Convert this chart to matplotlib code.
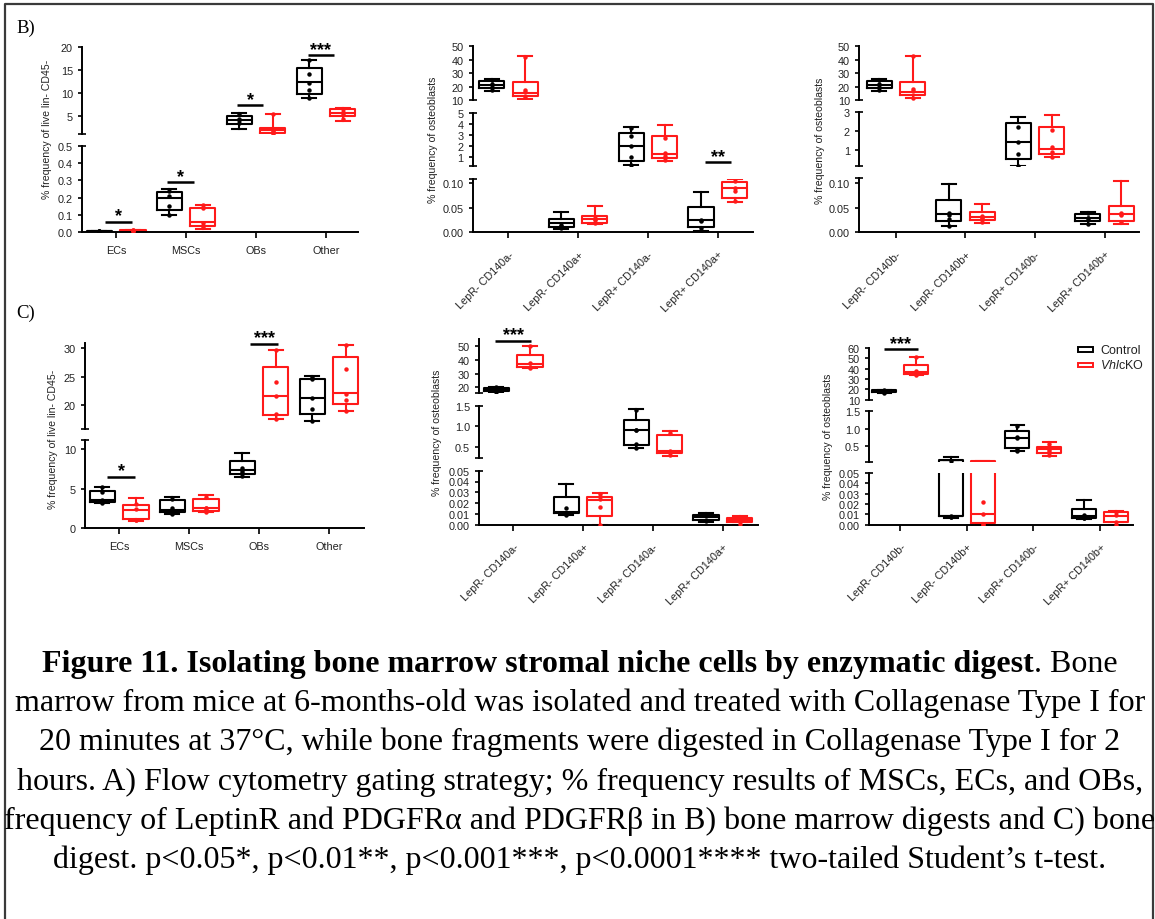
import matplotlib
matplotlib.use('Agg')
import matplotlib.pyplot as plt
from matplotlib.lines import Line2D
from matplotlib.patches import Rectangle

plt.rcParams['font.family'] = ['Liberation Sans', 'DejaVu Sans']
plt.rcParams['mathtext.fontset'] = 'custom'
plt.rcParams['mathtext.it'] = 'Liberation Sans:italic'
plt.rcParams['mathtext.rm'] = 'Liberation Sans'

# ---------------- data ----------------
# each box: [min, q1, median, q3, max]
cats_cell = ['ECs', 'MSCs', 'OBs', 'Other']
cats_a = ['LepR- CD140a-', 'LepR- CD140a+', 'LepR+ CD140a-', 'LepR+ CD140a+']
cats_b = ['LepR- CD140b-', 'LepR- CD140b+', 'LepR+ CD140b-', 'LepR+ CD140b+']
series_names = ['Control', r'$\it{Vhl}$cKO']

B1_ctrl = [[0.002, 0.003, 0.005, 0.007, 0.009], [0.10, 0.13, 0.20, 0.23, 0.25],
           [2.2, 3.4, 4.2, 5.0, 5.7], [8.9, 9.8, 12.4, 15.4, 17.3]]
B1_ko = [[0.006, 0.008, 0.010, 0.013, 0.015], [0.02, 0.038, 0.06, 0.138, 0.16],
         [1.1, 1.3, 1.95, 2.5, 5.6], [4.0, 5.1, 5.8, 6.5, 6.9]]
B1_ctrl_pts = [[0.003, 0.005, 0.006, 0.008], [0.10, 0.15, 0.21, 0.24],
               [3.6, 4.1, 4.4, 5.6], [9.0, 10.7, 12.3, 14.1, 17.3]]
B1_ko_pts = [[0.008, 0.010, 0.012, 0.014], [0.03, 0.055, 0.14, 0.16],
             [1.2, 1.9, 2.0, 5.5], [4.5, 5.5, 6.0, 6.6]]
B1_sig = [(0, 0.06, '*'), (1, 0.29, '*'), (2, 7.4, '*'), (3, 18.3, '***')]

B2_ctrl = [[16.9, 18.7, 21.2, 24.4, 25.6], [0.007, 0.010, 0.019, 0.027, 0.041],
           [0.25, 0.64, 2.0, 3.15, 3.67], [0.003, 0.010, 0.026, 0.052, 0.083]]
B2_ko = [[10.7, 13.2, 15.2, 23.6, 42.5], [0.016, 0.020, 0.027, 0.034, 0.053],
         [0.64, 0.9, 1.25, 2.9, 3.9], [0.062, 0.071, 0.09, 0.102, 0.11]]
B2_ctrl_pts = [[17.5, 21, 22, 25], [0.008, 0.010, 0.012, 0.015],
               [0.25, 0.95, 2.0, 2.9, 3.6], [0.003, 0.008, 0.024, 0.025]]
B2_ko_pts = [[12, 16, 17.7, 42], [0.02, 0.025, 0.027, 0.03],
             [0.7, 1.1, 1.3, 2.7], [0.063, 0.085, 0.09, 0.105]]
B2_sig = [(3, 0.49, '**')]

B3_ctrl = [[16.9, 18.7, 21.2, 24.4, 25.6], [0.012, 0.024, 0.037, 0.066, 0.099],
           [0.14, 0.50, 1.40, 2.41, 2.73], [0.017, 0.024, 0.030, 0.037, 0.042]]
B3_ko = [[11.2, 13.7, 15.7, 23.6, 43], [0.019, 0.026, 0.032, 0.041, 0.057],
         [0.59, 0.77, 1.04, 2.23, 2.87], [0.017, 0.024, 0.037, 0.054, 0.104]]
B3_ctrl_pts = [[17.5, 21, 22, 25], [0.013, 0.028, 0.035, 0.04],
               [0.15, 0.77, 1.4, 2.2], [0.017, 0.029, 0.03, 0.04]]
B3_ko_pts = [[11.5, 17, 18, 43], [0.02, 0.027, 0.03, 0.033],
             [0.6, 0.9, 1.16, 2.05], [0.02, 0.035, 0.038, 0.04]]
B3_sig = []

C1_ctrl = [[3.15, 3.36, 3.6, 4.74, 5.25], [1.8, 2.0, 2.3, 3.5, 3.9],
           [6.5, 6.85, 7.27, 8.45, 9.45], [17.2, 18.5, 21.2, 24.6, 25.1]]
C1_ko = [[0.96, 1.17, 2.3, 2.98, 3.78], [2.0, 2.14, 2.56, 3.7, 4.16],
         [17.5, 18.3, 21.6, 26.7, 29.65], [19.0, 20.2, 22.05, 28.4, 30.6]]
C1_ctrl_pts = [[3.2, 3.5, 4.6, 5.2], [1.8, 2.0, 2.6, 3.7],
               [6.6, 6.9, 7.2, 7.6], [17.2, 19.3, 21.2, 24.5, 25.0]]
C1_ko_pts = [[1.0, 1.1, 2.4, 3.0], [2.1, 2.5, 2.6, 3.9],
             [17.5, 18.5, 21.6, 24.0, 29.7], [19.0, 20.9, 22.0, 26.3, 30.6]]
C1_sig = [(0, 6.5, '*'), (2, 30.8, '***')]

C2_ctrl = [[16.5, 17.3, 18.3, 19.3, 20.3], [0.0093, 0.011, 0.0115, 0.026, 0.0377],
           [0.47, 0.54, 0.92, 1.16, 1.43], [0.0022, 0.0046, 0.0074, 0.0093, 0.0108]]
C2_ko = [[34.1, 35.1, 37.0, 43.6, 50.4], [0.0, 0.0083, 0.023, 0.026, 0.029],
         [0.26, 0.35, 0.40, 0.79, 0.88], [0.0, 0.0022, 0.0046, 0.0062, 0.0083]]
C2_ctrl_pts = [[16.5, 17.5, 18.5, 19.5, 20.3], [0.0093, 0.010, 0.011, 0.0155],
               [0.47, 0.56, 0.9, 0.92, 1.4], [0.003, 0.008, 0.009, 0.01]]
C2_ko_pts = [[34, 35, 37.8, 50], [0.0, 0.016, 0.024, 0.028],
             [0.28, 0.37, 0.4, 0.83], [0.001, 0.004, 0.005, 0.007]]
C2_sig = [(0, 54.1, '***')]

C3_ctrl = [[16.5, 17.2, 18.0, 19.0, 19.5], [0.0065, 0.008, 0.0085, 0.09, 0.19],
           [0.35, 0.43, 0.72, 0.94, 1.10], [0.0055, 0.0065, 0.0087, 0.015, 0.024]]
C3_ko = [[33.9, 34.8, 37.1, 43.6, 51.6], [0.0, 0.0014, 0.0103, 0.064, 0.068],
         [0.21, 0.28, 0.40, 0.47, 0.60], [0.0, 0.0023, 0.0087, 0.012, 0.0135]]
C3_ctrl_pts = [[16.5, 17.5, 18.5, 19.5], [0.007, 0.0075, 0.008, 0.06],
               [0.36, 0.42, 0.72, 0.76, 1.08], [0.006, 0.006, 0.007, 0.009]]
C3_ko_pts = [[34, 36, 38, 51], [0.0, 0.001, 0.0105, 0.0217],
             [0.24, 0.35, 0.42, 0.55], [0.0, 0.003, 0.009, 0.012]]
C3_sig = [(0, 59, '***')]

# axis segments (top to bottom): tick values and tick labels
B1_ticks = [[5, 10, 15, 20], [0, 0.1, 0.2, 0.3, 0.4, 0.5]]
B1_ticklabels = [['5', '10', '15', '20'], ['0.0', '0.1', '0.2', '0.3', '0.4', '0.5']]
B2_ticks = [[10, 20, 30, 40, 50], [1, 2, 3, 4, 5], [0, 0.05, 0.10]]
B2_ticklabels = [['10', '20', '30', '40', '50'], ['1', '2', '3', '4', '5'], ['0.00', '0.05', '0.10']]
B3_ticks = [[10, 20, 30, 40, 50], [1, 2, 3], [0, 0.05, 0.10]]
B3_ticklabels = [['10', '20', '30', '40', '50'], ['1', '2', '3'], ['0.00', '0.05', '0.10']]
C1_ticks = [[20, 25, 30], [0, 5, 10]]
C1_ticklabels = [['20', '25', '30'], ['0', '5', '10']]
C2_ticks = [[20, 30, 40, 50], [0.5, 1.0, 1.5], [0, 0.01, 0.02, 0.03, 0.04, 0.05]]
C2_ticklabels = [['20', '30', '40', '50'], ['0.5', '1.0', '1.5'],
                 ['0.00', '0.01', '0.02', '0.03', '0.04', '0.05']]
C3_ticks = [[10, 20, 30, 40, 50, 60], [0.5, 1.0, 1.5], [0, 0.01, 0.02, 0.03, 0.04, 0.05]]
C3_ticklabels = [['10', '20', '30', '40', '50', '60'], ['0.5', '1.0', '1.5'],
                 ['0.00', '0.01', '0.02', '0.03', '0.04', '0.05']]

ylabel_cell = '% frequency of live lin- CD45-'
ylabel_ob = '% frequency of osteoblasts'

caption_bold = 'Figure 11. Isolating bone marrow stromal niche cells by enzymatic digest'
caption_lines = [
    '. Bone',
    'marrow from mice at 6-months-old was isolated and treated with Collagenase Type I for',
    '20 minutes at 37°C, while bone fragments were digested in Collagenase Type I for 2',
    'hours. A) Flow cytometry gating strategy; % frequency results of MSCs, ECs, and OBs,',
    'frequency of LeptinR and PDGFRα and PDGFRβ in B) bone marrow digests and C) bone',
    'digest. p<0.05*, p<0.01**, p<0.001***, p<0.0001**** two-tailed Student’s t-test.',
]

# ---------------- figure ----------------
W, H = 1155, 920
fig = plt.figure(figsize=(W / 100, H / 100), dpi=100)
RED = '#ff1a1a'
LW = 1.5
TICKFS = 7.8


def fx(x):
    return x / W


def fy(y):
    return 1 - y / H


def draw_panel(xr, xlim, segs, ylims, ticks, ticklabels, cats, rotate,
               ctrl, ko, ctrl_pts, ko_pts, sigs, sig_off, ylabel, ylabel_xy):
    n = len(segs)
    axes = []
    for i, (top, bot) in enumerate(segs):
        lo, hi = ylims[i]
        ax = fig.add_axes([fx(xr[0]), fy(bot), (xr[1] - xr[0]) / W, (bot - top) / H])
        ax.patch.set_visible(False)
        ax.set_xlim(*xlim)
        ax.set_ylim(lo, hi)
        ax.spines['top'].set_visible(False)
        ax.spines['right'].set_visible(False)
        ax.spines['left'].set_linewidth(1.4)
        ax.set_yticks(ticks[i])
        ax.set_yticklabels(ticklabels[i])
        ax.tick_params(axis='y', direction='out', length=3, width=1.4, pad=3.5,
                       labelsize=TICKFS, colors='#222222')
        if i < n - 1:
            ax.spines['bottom'].set_visible(False)
            ax.set_xticks([])
        else:
            ax.spines['bottom'].set_linewidth(1.4)
            ax.set_xticks(range(len(cats)))
            if rotate:
                ax.set_xticklabels(cats, rotation=45, ha='right', va='top',
                                   rotation_mode='anchor')
                ax.tick_params(axis='x', direction='out', length=4, width=1.4, pad=8,
                               labelsize=TICKFS, colors='#222222')
            else:
                ax.set_xticklabels(cats)
                ax.tick_params(axis='x', direction='out', length=4, width=1.4, pad=5,
                               labelsize=TICKFS, colors='#222222')
        # break caps
        if i > 0:
            ax.plot([0], [1], marker='_', ms=6, mew=1.4, color='#222222',
                    transform=ax.transAxes, clip_on=False)
        if i < n - 1:
            ax.plot([0], [0], marker='_', ms=6, mew=1.4, color='#222222',
                    transform=ax.transAxes, clip_on=False)
        # boxes (only the parts that fall inside this segment)
        for j in range(len(cats)):
            for st, pts, off, col in ((ctrl[j], ctrl_pts[j], -0.24, 'black'),
                                      (ko[j], ko_pts[j], 0.24, RED)):
                if st[4] >= lo and st[0] <= hi:
                    d = dict(whislo=st[0], q1=st[1], med=st[2], q3=st[3], whishi=st[4],
                             fliers=[])
                    lp = dict(color=col, linewidth=LW)
                    ax.bxp([d], positions=[j + off], widths=0.36, capwidths=0.2,
                           showfliers=False, manage_ticks=False,
                           boxprops=lp, whiskerprops=lp, capprops=lp,
                           medianprops=lp)
                inside = [p for p in pts if lo <= p <= hi]
                if inside:
                    ax.plot([j + off] * len(inside), inside, 'o', ms=3.2, color=col,
                            markeredgewidth=0, zorder=3)
        axes.append(ax)
    # significance bars
    for (c, yv, lab) in sigs:
        k = 0
        for i in range(n):
            lo, hi = ylims[i]
            if lo <= yv <= hi * 1.02:
                k = i
                break
        ax = axes[k]
        x0, x1 = c + sig_off[c][0], c + sig_off[c][1]
        ax.plot([x0, x1], [yv, yv], color='black', lw=1.8, clip_on=False,
                solid_capstyle='butt')
        ax.annotate(lab, xy=((x0 + x1) / 2, yv), xytext=(0, 1.0),
                    textcoords='offset points', ha='center', va='baseline',
                    fontsize=13, fontweight='bold', annotation_clip=False)
    fig.text(fx(ylabel_xy[0]), fy(ylabel_xy[1]), ylabel, rotation=90,
             ha='center', va='center', fontsize=7.6, color='#222222')
    return axes


OFF_B1 = {0: (-0.16, 0.23), 1: (-0.27, 0.11), 2: (-0.27, 0.10), 3: (-0.26, 0.11)}
OFF_B2 = {3: (-0.18, 0.19)}
OFF_C1 = {0: (-0.17, 0.23), 2: (-0.13, 0.27)}
OFF_C2 = {0: (-0.26, 0.26)}
OFF_C3 = {0: (-0.25, 0.27)}

draw_panel((82, 358), (-0.49, 3.46), [(48.3, 135), (146.7, 233.3)],
           [(1.15, 20), (0, 0.5)], B1_ticks, B1_ticklabels, cats_cell, False,
           B1_ctrl, B1_ko, B1_ctrl_pts, B1_ko_pts, B1_sig, OFF_B1,
           ylabel_cell, (47, 129))
draw_panel((472.7, 752.7), (-0.51, 3.5), [(47.3, 101), (113.7, 166.7), (180, 233.3)],
           [(10, 50), (0.18, 5), (0, 0.109)], B2_ticks, B2_ticklabels, cats_a, True,
           B2_ctrl, B2_ko, B2_ctrl_pts, B2_ko_pts, B2_sig, OFF_B2,
           ylabel_ob, (433, 140))
draw_panel((859, 1139.3), (-0.53, 3.5), [(47.3, 101), (113.3, 167.3), (179.3, 233.3)],
           [(10, 50), (0.11, 3), (0, 0.11)], B3_ticks, B3_ticklabels, cats_b, True,
           B3_ctrl, B3_ko, B3_ctrl_pts, B3_ko_pts, B3_sig, {},
           ylabel_ob, (820, 141))
draw_panel((85, 364), (-0.49, 3.5), [(344, 430), (441, 529.3)],
           [(15.8, 30.9), (0, 11.1)], C1_ticks, C1_ticklabels, cats_cell, False,
           C1_ctrl, C1_ko, C1_ctrl_pts, C1_ko_pts, C1_sig, OFF_C1,
           ylabel_cell, (53, 439))
draw_panel((479, 757.7), (-0.49, 3.5), [(340, 394.3), (407.3, 459.3), (471.7, 525.7)],
           [(15.6, 55.3), (0.21, 1.5), (0, 0.05)], C2_ticks, C2_ticklabels, cats_a, True,
           C2_ctrl, C2_ko, C2_ctrl_pts, C2_ko_pts, C2_sig, OFF_C2,
           ylabel_ob, (437, 433))
draw_panel((869, 1133.3), (-0.47, 3.5), [(349, 400.7), (412.3, 462.7), (474, 525.7)],
           [(10, 60), (0.04, 1.5), (0, 0.05)], C3_ticks, C3_ticklabels, cats_b, True,
           C3_ctrl, C3_ko, C3_ctrl_pts, C3_ko_pts, C3_sig, OFF_C3,
           ylabel_ob, (828, 437))

# legend
for k, (name, col) in enumerate(zip(series_names, ['black', RED])):
    yc = 350.5 + k * 15.3
    fig.add_artist(Rectangle((fx(1078), fy(yc + 2.3)), 15 / W, 4.6 / H,
                             transform=fig.transFigure, fill=False, edgecolor=col,
                             linewidth=1.4))
    fig.text(fx(1100), fy(yc), name, ha='left', va='center', fontsize=9,
             color='#222222')

# panel letters
fig.text(fx(16), fy(33), 'B)', family='Liberation Serif', fontsize=13.5,
         ha='left', va='baseline')
fig.text(fx(16), fy(318), 'C)', family='Liberation Serif', fontsize=13.5,
         ha='left', va='baseline')

# frame
fig.add_artist(Line2D([fx(5), fx(5), fx(1153), fx(1153)], [0, fy(5), fy(5), 0],
                      transform=fig.transFigure, color='#3a3a3a', lw=1.6))

# caption
renderer = fig.canvas.get_renderer()
probe = fig.text(0, 0, caption_lines[1], family='Liberation Serif', fontsize=20)
wprobe = probe.get_window_extent(renderer).width
probe.remove()
cfs = 20 * 1130 / wprobe
baselines = [672, 711, 750, 790, 829, 868]
XC = 580
tb = fig.text(0, fy(baselines[0]), caption_bold, family='Liberation Serif',
              fontsize=cfs, fontweight='bold', va='baseline', ha='left')
tn = fig.text(0, fy(baselines[0]), caption_lines[0], family='Liberation Serif',
              fontsize=cfs, va='baseline', ha='left')
wb = tb.get_window_extent(renderer).width
wn = tn.get_window_extent(renderer).width
x0 = XC - (wb + wn) / 2
tb.set_x(fx(x0))
tn.set_x(fx(x0 + wb))
for line, yb in zip(caption_lines[1:], baselines[1:]):
    fig.text(fx(XC), fy(yb), line, family='Liberation Serif', fontsize=cfs,
             ha='center', va='baseline')

fig.savefig('out.png', dpi=100)
